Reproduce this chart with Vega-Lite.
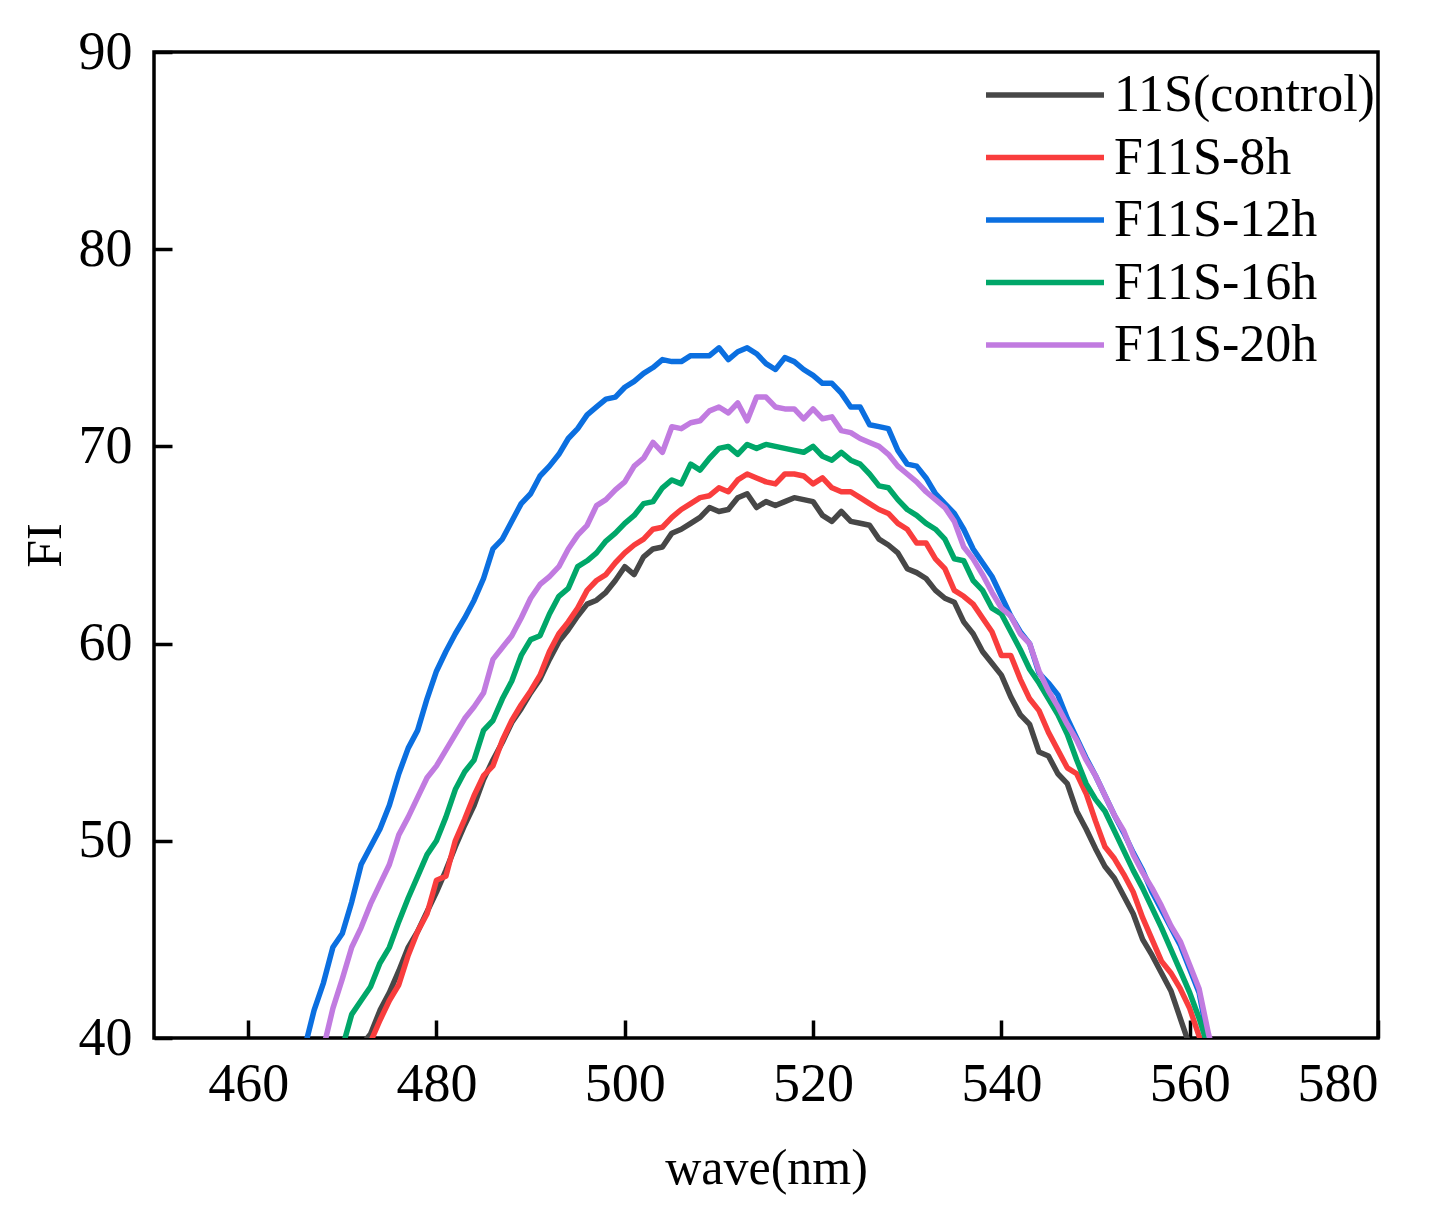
{
  "$schema": "https://vega.github.io/schema/vega-lite/v6.json",
  "autosize": {"type": "none"},
  "padding": {"left": 154, "top": 52, "right": 59, "bottom": 181},
  "width": 1224,
  "height": 986,
  "background": "white",
  "config": {
    "font": "Liberation Serif",
    "view": {"stroke": "black", "strokeWidth": 3.5},
    "axis": {
      "grid": false,
      "domain": false,
      "offset": -18,
      "tickColor": "black",
      "tickWidth": 3.5,
      "tickSize": 18,
      "labelFont": "Liberation Serif",
      "labelFontSize": 54,
      "labelColor": "black",
      "titleFont": "Liberation Serif",
      "titleFontSize": 50,
      "titleFontWeight": "normal",
      "titleColor": "black"
    },
    "legend": {
      "labelFont": "Liberation Serif",
      "labelFontSize": 52,
      "labelColor": "black",
      "labelLimit": 0
    }
  },
  "data": {
    "values": [
      {"g":"11S(control)","w":472,"v":39.6},{"g":"11S(control)","w":473,"v":40.2},{"g":"11S(control)","w":474,"v":41.4},{"g":"11S(control)","w":475,"v":42.3},{"g":"11S(control)","w":476,"v":43.4},{"g":"11S(control)","w":477,"v":44.6},{"g":"11S(control)","w":478,"v":45.4},{"g":"11S(control)","w":479,"v":46.4},{"g":"11S(control)","w":480,"v":47.4},{"g":"11S(control)","w":481,"v":48.5},{"g":"11S(control)","w":482,"v":49.7},{"g":"11S(control)","w":483,"v":50.8},{"g":"11S(control)","w":484,"v":51.8},{"g":"11S(control)","w":485,"v":53.1},{"g":"11S(control)","w":486,"v":54.1},{"g":"11S(control)","w":487,"v":55.0},{"g":"11S(control)","w":488,"v":56.0},{"g":"11S(control)","w":489,"v":56.7},{"g":"11S(control)","w":490,"v":57.5},{"g":"11S(control)","w":491,"v":58.2},{"g":"11S(control)","w":492,"v":59.2},{"g":"11S(control)","w":493,"v":60.1},{"g":"11S(control)","w":494,"v":60.7},{"g":"11S(control)","w":495,"v":61.4},{"g":"11S(control)","w":496,"v":62.0},{"g":"11S(control)","w":497,"v":62.2},{"g":"11S(control)","w":498,"v":62.6},{"g":"11S(control)","w":499,"v":63.2},{"g":"11S(control)","w":500,"v":63.9},{"g":"11S(control)","w":501,"v":63.5},{"g":"11S(control)","w":502,"v":64.4},{"g":"11S(control)","w":503,"v":64.8},{"g":"11S(control)","w":504,"v":64.9},{"g":"11S(control)","w":505,"v":65.6},{"g":"11S(control)","w":506,"v":65.8},{"g":"11S(control)","w":507,"v":66.1},{"g":"11S(control)","w":508,"v":66.4},{"g":"11S(control)","w":509,"v":66.9},{"g":"11S(control)","w":510,"v":66.7},{"g":"11S(control)","w":511,"v":66.8},{"g":"11S(control)","w":512,"v":67.4},{"g":"11S(control)","w":513,"v":67.6},{"g":"11S(control)","w":514,"v":66.9},{"g":"11S(control)","w":515,"v":67.2},{"g":"11S(control)","w":516,"v":67.0},{"g":"11S(control)","w":517,"v":67.2},{"g":"11S(control)","w":518,"v":67.4},{"g":"11S(control)","w":519,"v":67.3},{"g":"11S(control)","w":520,"v":67.2},{"g":"11S(control)","w":521,"v":66.5},{"g":"11S(control)","w":522,"v":66.2},{"g":"11S(control)","w":523,"v":66.7},{"g":"11S(control)","w":524,"v":66.2},{"g":"11S(control)","w":525,"v":66.1},{"g":"11S(control)","w":526,"v":66.0},{"g":"11S(control)","w":527,"v":65.3},{"g":"11S(control)","w":528,"v":65.0},{"g":"11S(control)","w":529,"v":64.6},{"g":"11S(control)","w":530,"v":63.8},{"g":"11S(control)","w":531,"v":63.6},{"g":"11S(control)","w":532,"v":63.3},{"g":"11S(control)","w":533,"v":62.7},{"g":"11S(control)","w":534,"v":62.3},{"g":"11S(control)","w":535,"v":62.1},{"g":"11S(control)","w":536,"v":61.1},{"g":"11S(control)","w":537,"v":60.5},{"g":"11S(control)","w":538,"v":59.6},{"g":"11S(control)","w":539,"v":59.0},{"g":"11S(control)","w":540,"v":58.4},{"g":"11S(control)","w":541,"v":57.3},{"g":"11S(control)","w":542,"v":56.4},{"g":"11S(control)","w":543,"v":55.9},{"g":"11S(control)","w":544,"v":54.5},{"g":"11S(control)","w":545,"v":54.3},{"g":"11S(control)","w":546,"v":53.4},{"g":"11S(control)","w":547,"v":52.9},{"g":"11S(control)","w":548,"v":51.5},{"g":"11S(control)","w":549,"v":50.6},{"g":"11S(control)","w":550,"v":49.6},{"g":"11S(control)","w":551,"v":48.7},{"g":"11S(control)","w":552,"v":48.1},{"g":"11S(control)","w":553,"v":47.2},{"g":"11S(control)","w":554,"v":46.3},{"g":"11S(control)","w":555,"v":45.0},{"g":"11S(control)","w":556,"v":44.2},{"g":"11S(control)","w":557,"v":43.3},{"g":"11S(control)","w":558,"v":42.4},{"g":"11S(control)","w":559,"v":41.0},{"g":"11S(control)","w":560,"v":39.6},{"g":"11S(control)","w":561,"v":38.5},
      {"g":"F11S-8h","w":473,"v":39.8},{"g":"F11S-8h","w":474,"v":40.9},{"g":"F11S-8h","w":475,"v":41.9},{"g":"F11S-8h","w":476,"v":42.7},{"g":"F11S-8h","w":477,"v":44.2},{"g":"F11S-8h","w":478,"v":45.4},{"g":"F11S-8h","w":479,"v":46.3},{"g":"F11S-8h","w":480,"v":48.0},{"g":"F11S-8h","w":481,"v":48.2},{"g":"F11S-8h","w":482,"v":50.0},{"g":"F11S-8h","w":483,"v":51.1},{"g":"F11S-8h","w":484,"v":52.3},{"g":"F11S-8h","w":485,"v":53.3},{"g":"F11S-8h","w":486,"v":53.8},{"g":"F11S-8h","w":487,"v":55.1},{"g":"F11S-8h","w":488,"v":56.1},{"g":"F11S-8h","w":489,"v":56.9},{"g":"F11S-8h","w":490,"v":57.6},{"g":"F11S-8h","w":491,"v":58.4},{"g":"F11S-8h","w":492,"v":59.6},{"g":"F11S-8h","w":493,"v":60.5},{"g":"F11S-8h","w":494,"v":61.1},{"g":"F11S-8h","w":495,"v":61.8},{"g":"F11S-8h","w":496,"v":62.7},{"g":"F11S-8h","w":497,"v":63.2},{"g":"F11S-8h","w":498,"v":63.5},{"g":"F11S-8h","w":499,"v":64.1},{"g":"F11S-8h","w":500,"v":64.6},{"g":"F11S-8h","w":501,"v":65.0},{"g":"F11S-8h","w":502,"v":65.3},{"g":"F11S-8h","w":503,"v":65.8},{"g":"F11S-8h","w":504,"v":65.9},{"g":"F11S-8h","w":505,"v":66.4},{"g":"F11S-8h","w":506,"v":66.8},{"g":"F11S-8h","w":507,"v":67.1},{"g":"F11S-8h","w":508,"v":67.4},{"g":"F11S-8h","w":509,"v":67.5},{"g":"F11S-8h","w":510,"v":67.9},{"g":"F11S-8h","w":511,"v":67.7},{"g":"F11S-8h","w":512,"v":68.3},{"g":"F11S-8h","w":513,"v":68.6},{"g":"F11S-8h","w":514,"v":68.4},{"g":"F11S-8h","w":515,"v":68.2},{"g":"F11S-8h","w":516,"v":68.1},{"g":"F11S-8h","w":517,"v":68.6},{"g":"F11S-8h","w":518,"v":68.6},{"g":"F11S-8h","w":519,"v":68.5},{"g":"F11S-8h","w":520,"v":68.1},{"g":"F11S-8h","w":521,"v":68.4},{"g":"F11S-8h","w":522,"v":67.9},{"g":"F11S-8h","w":523,"v":67.7},{"g":"F11S-8h","w":524,"v":67.7},{"g":"F11S-8h","w":525,"v":67.4},{"g":"F11S-8h","w":526,"v":67.1},{"g":"F11S-8h","w":527,"v":66.8},{"g":"F11S-8h","w":528,"v":66.6},{"g":"F11S-8h","w":529,"v":66.1},{"g":"F11S-8h","w":530,"v":65.8},{"g":"F11S-8h","w":531,"v":65.1},{"g":"F11S-8h","w":532,"v":65.1},{"g":"F11S-8h","w":533,"v":64.3},{"g":"F11S-8h","w":534,"v":63.8},{"g":"F11S-8h","w":535,"v":62.7},{"g":"F11S-8h","w":536,"v":62.4},{"g":"F11S-8h","w":537,"v":62.0},{"g":"F11S-8h","w":538,"v":61.3},{"g":"F11S-8h","w":539,"v":60.6},{"g":"F11S-8h","w":540,"v":59.4},{"g":"F11S-8h","w":541,"v":59.4},{"g":"F11S-8h","w":542,"v":58.2},{"g":"F11S-8h","w":543,"v":57.2},{"g":"F11S-8h","w":544,"v":56.6},{"g":"F11S-8h","w":545,"v":55.5},{"g":"F11S-8h","w":546,"v":54.6},{"g":"F11S-8h","w":547,"v":53.7},{"g":"F11S-8h","w":548,"v":53.4},{"g":"F11S-8h","w":549,"v":52.4},{"g":"F11S-8h","w":550,"v":51.0},{"g":"F11S-8h","w":551,"v":49.7},{"g":"F11S-8h","w":552,"v":49.1},{"g":"F11S-8h","w":553,"v":48.3},{"g":"F11S-8h","w":554,"v":47.4},{"g":"F11S-8h","w":555,"v":46.1},{"g":"F11S-8h","w":556,"v":45.0},{"g":"F11S-8h","w":557,"v":43.9},{"g":"F11S-8h","w":558,"v":43.3},{"g":"F11S-8h","w":559,"v":42.5},{"g":"F11S-8h","w":560,"v":41.5},{"g":"F11S-8h","w":561,"v":40.1},{"g":"F11S-8h","w":562,"v":38.8},
      {"g":"F11S-12h","w":466,"v":39.5},{"g":"F11S-12h","w":467,"v":41.4},{"g":"F11S-12h","w":468,"v":42.8},{"g":"F11S-12h","w":469,"v":44.6},{"g":"F11S-12h","w":470,"v":45.3},{"g":"F11S-12h","w":471,"v":46.9},{"g":"F11S-12h","w":472,"v":48.8},{"g":"F11S-12h","w":473,"v":49.7},{"g":"F11S-12h","w":474,"v":50.6},{"g":"F11S-12h","w":475,"v":51.8},{"g":"F11S-12h","w":476,"v":53.4},{"g":"F11S-12h","w":477,"v":54.7},{"g":"F11S-12h","w":478,"v":55.6},{"g":"F11S-12h","w":479,"v":57.2},{"g":"F11S-12h","w":480,"v":58.6},{"g":"F11S-12h","w":481,"v":59.6},{"g":"F11S-12h","w":482,"v":60.5},{"g":"F11S-12h","w":483,"v":61.3},{"g":"F11S-12h","w":484,"v":62.2},{"g":"F11S-12h","w":485,"v":63.3},{"g":"F11S-12h","w":486,"v":64.8},{"g":"F11S-12h","w":487,"v":65.3},{"g":"F11S-12h","w":488,"v":66.2},{"g":"F11S-12h","w":489,"v":67.1},{"g":"F11S-12h","w":490,"v":67.6},{"g":"F11S-12h","w":491,"v":68.5},{"g":"F11S-12h","w":492,"v":69.0},{"g":"F11S-12h","w":493,"v":69.6},{"g":"F11S-12h","w":494,"v":70.4},{"g":"F11S-12h","w":495,"v":70.9},{"g":"F11S-12h","w":496,"v":71.6},{"g":"F11S-12h","w":497,"v":72.0},{"g":"F11S-12h","w":498,"v":72.4},{"g":"F11S-12h","w":499,"v":72.5},{"g":"F11S-12h","w":500,"v":73.0},{"g":"F11S-12h","w":501,"v":73.3},{"g":"F11S-12h","w":502,"v":73.7},{"g":"F11S-12h","w":503,"v":74.0},{"g":"F11S-12h","w":504,"v":74.4},{"g":"F11S-12h","w":505,"v":74.3},{"g":"F11S-12h","w":506,"v":74.3},{"g":"F11S-12h","w":507,"v":74.6},{"g":"F11S-12h","w":508,"v":74.6},{"g":"F11S-12h","w":509,"v":74.6},{"g":"F11S-12h","w":510,"v":75.0},{"g":"F11S-12h","w":511,"v":74.4},{"g":"F11S-12h","w":512,"v":74.8},{"g":"F11S-12h","w":513,"v":75.0},{"g":"F11S-12h","w":514,"v":74.7},{"g":"F11S-12h","w":515,"v":74.2},{"g":"F11S-12h","w":516,"v":73.9},{"g":"F11S-12h","w":517,"v":74.5},{"g":"F11S-12h","w":518,"v":74.3},{"g":"F11S-12h","w":519,"v":73.9},{"g":"F11S-12h","w":520,"v":73.6},{"g":"F11S-12h","w":521,"v":73.2},{"g":"F11S-12h","w":522,"v":73.2},{"g":"F11S-12h","w":523,"v":72.7},{"g":"F11S-12h","w":524,"v":72.0},{"g":"F11S-12h","w":525,"v":72.0},{"g":"F11S-12h","w":526,"v":71.1},{"g":"F11S-12h","w":527,"v":71.0},{"g":"F11S-12h","w":528,"v":70.9},{"g":"F11S-12h","w":529,"v":69.8},{"g":"F11S-12h","w":530,"v":69.1},{"g":"F11S-12h","w":531,"v":69.0},{"g":"F11S-12h","w":532,"v":68.4},{"g":"F11S-12h","w":533,"v":67.6},{"g":"F11S-12h","w":534,"v":67.1},{"g":"F11S-12h","w":535,"v":66.6},{"g":"F11S-12h","w":536,"v":65.8},{"g":"F11S-12h","w":537,"v":64.8},{"g":"F11S-12h","w":538,"v":64.1},{"g":"F11S-12h","w":539,"v":63.4},{"g":"F11S-12h","w":540,"v":62.4},{"g":"F11S-12h","w":541,"v":61.4},{"g":"F11S-12h","w":542,"v":60.6},{"g":"F11S-12h","w":543,"v":60.0},{"g":"F11S-12h","w":544,"v":58.5},{"g":"F11S-12h","w":545,"v":58.0},{"g":"F11S-12h","w":546,"v":57.4},{"g":"F11S-12h","w":547,"v":56.2},{"g":"F11S-12h","w":548,"v":55.2},{"g":"F11S-12h","w":549,"v":54.2},{"g":"F11S-12h","w":550,"v":53.3},{"g":"F11S-12h","w":551,"v":52.3},{"g":"F11S-12h","w":552,"v":51.3},{"g":"F11S-12h","w":553,"v":50.4},{"g":"F11S-12h","w":554,"v":49.4},{"g":"F11S-12h","w":555,"v":48.5},{"g":"F11S-12h","w":556,"v":47.4},{"g":"F11S-12h","w":557,"v":46.5},{"g":"F11S-12h","w":558,"v":45.6},{"g":"F11S-12h","w":559,"v":44.7},{"g":"F11S-12h","w":560,"v":43.5},{"g":"F11S-12h","w":561,"v":42.3},{"g":"F11S-12h","w":562,"v":39.8},
      {"g":"F11S-16h","w":470,"v":39.5},{"g":"F11S-16h","w":471,"v":41.2},{"g":"F11S-16h","w":472,"v":41.9},{"g":"F11S-16h","w":473,"v":42.6},{"g":"F11S-16h","w":474,"v":43.8},{"g":"F11S-16h","w":475,"v":44.6},{"g":"F11S-16h","w":476,"v":45.9},{"g":"F11S-16h","w":477,"v":47.1},{"g":"F11S-16h","w":478,"v":48.2},{"g":"F11S-16h","w":479,"v":49.3},{"g":"F11S-16h","w":480,"v":50.0},{"g":"F11S-16h","w":481,"v":51.2},{"g":"F11S-16h","w":482,"v":52.6},{"g":"F11S-16h","w":483,"v":53.5},{"g":"F11S-16h","w":484,"v":54.1},{"g":"F11S-16h","w":485,"v":55.6},{"g":"F11S-16h","w":486,"v":56.1},{"g":"F11S-16h","w":487,"v":57.2},{"g":"F11S-16h","w":488,"v":58.1},{"g":"F11S-16h","w":489,"v":59.4},{"g":"F11S-16h","w":490,"v":60.2},{"g":"F11S-16h","w":491,"v":60.4},{"g":"F11S-16h","w":492,"v":61.5},{"g":"F11S-16h","w":493,"v":62.4},{"g":"F11S-16h","w":494,"v":62.8},{"g":"F11S-16h","w":495,"v":63.9},{"g":"F11S-16h","w":496,"v":64.2},{"g":"F11S-16h","w":497,"v":64.6},{"g":"F11S-16h","w":498,"v":65.2},{"g":"F11S-16h","w":499,"v":65.6},{"g":"F11S-16h","w":500,"v":66.1},{"g":"F11S-16h","w":501,"v":66.5},{"g":"F11S-16h","w":502,"v":67.1},{"g":"F11S-16h","w":503,"v":67.2},{"g":"F11S-16h","w":504,"v":67.9},{"g":"F11S-16h","w":505,"v":68.3},{"g":"F11S-16h","w":506,"v":68.1},{"g":"F11S-16h","w":507,"v":69.1},{"g":"F11S-16h","w":508,"v":68.8},{"g":"F11S-16h","w":509,"v":69.4},{"g":"F11S-16h","w":510,"v":69.9},{"g":"F11S-16h","w":511,"v":70.0},{"g":"F11S-16h","w":512,"v":69.6},{"g":"F11S-16h","w":513,"v":70.1},{"g":"F11S-16h","w":514,"v":69.9},{"g":"F11S-16h","w":515,"v":70.1},{"g":"F11S-16h","w":516,"v":70.0},{"g":"F11S-16h","w":517,"v":69.9},{"g":"F11S-16h","w":518,"v":69.8},{"g":"F11S-16h","w":519,"v":69.7},{"g":"F11S-16h","w":520,"v":70.0},{"g":"F11S-16h","w":521,"v":69.5},{"g":"F11S-16h","w":522,"v":69.3},{"g":"F11S-16h","w":523,"v":69.7},{"g":"F11S-16h","w":524,"v":69.3},{"g":"F11S-16h","w":525,"v":69.1},{"g":"F11S-16h","w":526,"v":68.6},{"g":"F11S-16h","w":527,"v":68.0},{"g":"F11S-16h","w":528,"v":67.9},{"g":"F11S-16h","w":529,"v":67.3},{"g":"F11S-16h","w":530,"v":66.8},{"g":"F11S-16h","w":531,"v":66.5},{"g":"F11S-16h","w":532,"v":66.1},{"g":"F11S-16h","w":533,"v":65.8},{"g":"F11S-16h","w":534,"v":65.3},{"g":"F11S-16h","w":535,"v":64.3},{"g":"F11S-16h","w":536,"v":64.2},{"g":"F11S-16h","w":537,"v":63.2},{"g":"F11S-16h","w":538,"v":62.7},{"g":"F11S-16h","w":539,"v":61.8},{"g":"F11S-16h","w":540,"v":61.5},{"g":"F11S-16h","w":541,"v":60.6},{"g":"F11S-16h","w":542,"v":59.7},{"g":"F11S-16h","w":543,"v":58.7},{"g":"F11S-16h","w":544,"v":58.0},{"g":"F11S-16h","w":545,"v":57.2},{"g":"F11S-16h","w":546,"v":56.4},{"g":"F11S-16h","w":547,"v":55.4},{"g":"F11S-16h","w":548,"v":54.1},{"g":"F11S-16h","w":549,"v":52.9},{"g":"F11S-16h","w":550,"v":52.1},{"g":"F11S-16h","w":551,"v":51.5},{"g":"F11S-16h","w":552,"v":50.5},{"g":"F11S-16h","w":553,"v":49.5},{"g":"F11S-16h","w":554,"v":48.5},{"g":"F11S-16h","w":555,"v":47.6},{"g":"F11S-16h","w":556,"v":46.6},{"g":"F11S-16h","w":557,"v":45.6},{"g":"F11S-16h","w":558,"v":44.5},{"g":"F11S-16h","w":559,"v":43.4},{"g":"F11S-16h","w":560,"v":42.3},{"g":"F11S-16h","w":561,"v":41.0},{"g":"F11S-16h","w":562,"v":39.5},
      {"g":"F11S-20h","w":468,"v":39.5},{"g":"F11S-20h","w":469,"v":41.5},{"g":"F11S-20h","w":470,"v":43.0},{"g":"F11S-20h","w":471,"v":44.6},{"g":"F11S-20h","w":472,"v":45.6},{"g":"F11S-20h","w":473,"v":46.8},{"g":"F11S-20h","w":474,"v":47.8},{"g":"F11S-20h","w":475,"v":48.8},{"g":"F11S-20h","w":476,"v":50.3},{"g":"F11S-20h","w":477,"v":51.2},{"g":"F11S-20h","w":478,"v":52.2},{"g":"F11S-20h","w":479,"v":53.2},{"g":"F11S-20h","w":480,"v":53.8},{"g":"F11S-20h","w":481,"v":54.6},{"g":"F11S-20h","w":482,"v":55.4},{"g":"F11S-20h","w":483,"v":56.2},{"g":"F11S-20h","w":484,"v":56.8},{"g":"F11S-20h","w":485,"v":57.5},{"g":"F11S-20h","w":486,"v":59.2},{"g":"F11S-20h","w":487,"v":59.8},{"g":"F11S-20h","w":488,"v":60.4},{"g":"F11S-20h","w":489,"v":61.3},{"g":"F11S-20h","w":490,"v":62.3},{"g":"F11S-20h","w":491,"v":63.0},{"g":"F11S-20h","w":492,"v":63.4},{"g":"F11S-20h","w":493,"v":63.9},{"g":"F11S-20h","w":494,"v":64.8},{"g":"F11S-20h","w":495,"v":65.5},{"g":"F11S-20h","w":496,"v":66.0},{"g":"F11S-20h","w":497,"v":67.0},{"g":"F11S-20h","w":498,"v":67.3},{"g":"F11S-20h","w":499,"v":67.8},{"g":"F11S-20h","w":500,"v":68.2},{"g":"F11S-20h","w":501,"v":69.0},{"g":"F11S-20h","w":502,"v":69.4},{"g":"F11S-20h","w":503,"v":70.2},{"g":"F11S-20h","w":504,"v":69.7},{"g":"F11S-20h","w":505,"v":71.0},{"g":"F11S-20h","w":506,"v":70.9},{"g":"F11S-20h","w":507,"v":71.2},{"g":"F11S-20h","w":508,"v":71.3},{"g":"F11S-20h","w":509,"v":71.8},{"g":"F11S-20h","w":510,"v":72.0},{"g":"F11S-20h","w":511,"v":71.7},{"g":"F11S-20h","w":512,"v":72.2},{"g":"F11S-20h","w":513,"v":71.3},{"g":"F11S-20h","w":514,"v":72.5},{"g":"F11S-20h","w":515,"v":72.5},{"g":"F11S-20h","w":516,"v":72.0},{"g":"F11S-20h","w":517,"v":71.9},{"g":"F11S-20h","w":518,"v":71.9},{"g":"F11S-20h","w":519,"v":71.4},{"g":"F11S-20h","w":520,"v":71.9},{"g":"F11S-20h","w":521,"v":71.4},{"g":"F11S-20h","w":522,"v":71.5},{"g":"F11S-20h","w":523,"v":70.8},{"g":"F11S-20h","w":524,"v":70.7},{"g":"F11S-20h","w":525,"v":70.4},{"g":"F11S-20h","w":526,"v":70.2},{"g":"F11S-20h","w":527,"v":70.0},{"g":"F11S-20h","w":528,"v":69.6},{"g":"F11S-20h","w":529,"v":69.0},{"g":"F11S-20h","w":530,"v":68.6},{"g":"F11S-20h","w":531,"v":68.2},{"g":"F11S-20h","w":532,"v":67.7},{"g":"F11S-20h","w":533,"v":67.3},{"g":"F11S-20h","w":534,"v":66.9},{"g":"F11S-20h","w":535,"v":66.2},{"g":"F11S-20h","w":536,"v":64.9},{"g":"F11S-20h","w":537,"v":64.3},{"g":"F11S-20h","w":538,"v":63.5},{"g":"F11S-20h","w":539,"v":62.6},{"g":"F11S-20h","w":540,"v":61.8},{"g":"F11S-20h","w":541,"v":61.4},{"g":"F11S-20h","w":542,"v":60.5},{"g":"F11S-20h","w":543,"v":60.0},{"g":"F11S-20h","w":544,"v":58.6},{"g":"F11S-20h","w":545,"v":57.6},{"g":"F11S-20h","w":546,"v":56.8},{"g":"F11S-20h","w":547,"v":55.9},{"g":"F11S-20h","w":548,"v":55.1},{"g":"F11S-20h","w":549,"v":54.1},{"g":"F11S-20h","w":550,"v":53.3},{"g":"F11S-20h","w":551,"v":52.3},{"g":"F11S-20h","w":552,"v":51.3},{"g":"F11S-20h","w":553,"v":50.5},{"g":"F11S-20h","w":554,"v":49.3},{"g":"F11S-20h","w":555,"v":48.4},{"g":"F11S-20h","w":556,"v":47.6},{"g":"F11S-20h","w":557,"v":46.7},{"g":"F11S-20h","w":558,"v":45.7},{"g":"F11S-20h","w":559,"v":44.9},{"g":"F11S-20h","w":560,"v":43.7},{"g":"F11S-20h","w":561,"v":42.5},{"g":"F11S-20h","w":562,"v":40.2},{"g":"F11S-20h","w":563,"v":38.5}
    ]
  },
  "mark": {"type": "line", "clip": true, "strokeWidth": 5.5, "strokeJoin": "round"},
  "encoding": {
    "x": {
      "field": "w",
      "type": "quantitative",
      "title": "wave(nm)",
      "scale": {"domain": [450, 580], "nice": false, "zero": false},
      "axis": {"values": [460, 480, 500, 520, 540, 560, 580], "labelPadding": 19, "titleY": 163, "titleBaseline": "alphabetic"}
    },
    "y": {
      "field": "v",
      "type": "quantitative",
      "title": "FI",
      "scale": {"domain": [40, 90], "nice": false, "zero": false},
      "axis": {"values": [40, 50, 60, 70, 80, 90], "labelPadding": 22, "titleX": -112, "titleBaseline": "alphabetic", "titleAngle": -90}
    },
    "color": {
      "field": "g",
      "type": "nominal",
      "scale": {
        "domain": ["11S(control)", "F11S-8h", "F11S-12h", "F11S-16h", "F11S-20h"],
        "range": ["#474747", "#f93d3d", "#0b6fe0", "#00a769", "#c17be0"]
      },
      "legend": {
        "title": null,
        "orient": "none",
        "legendX": 829,
        "legendY": 17,
        "symbolType": "stroke",
        "symbolSize": 13924,
        "symbolStrokeWidth": 5.5,
        "labelOffset": 7,
        "clipHeight": 52,
        "rowPadding": 10.5
      }
    }
  }
}
